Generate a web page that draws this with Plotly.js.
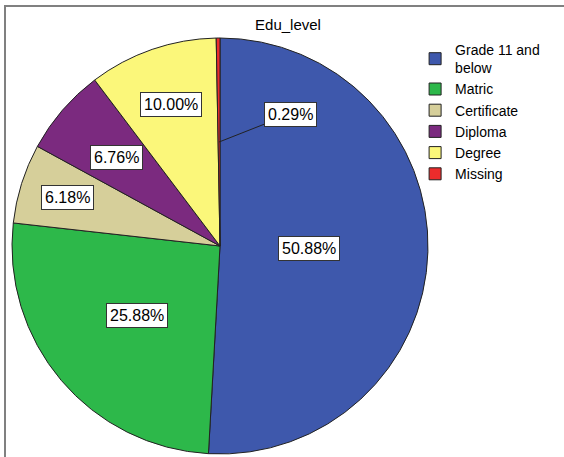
<!DOCTYPE html>
<html>
<head>
<meta charset="utf-8">
<script src="https://cdn.plot.ly/plotly-3.0.1.min.js"></script>
<style>
  html, body { margin: 0; padding: 0; background: #ffffff; }
  #chart { width: 564px; height: 457px; }
</style>
</head>
<body>
<div id="chart"></div>
<script>
// Education level shares (percent of respondents)
const categories = ['Grade 11 and<br>below', 'Matric', 'Certificate', 'Diploma', 'Degree', 'Missing'];
const shares = [50.88, 25.88, 6.18, 6.76, 10.00, 0.29];
const sliceColors = ['#3e58ac', '#2db84a', '#d6cf9a', '#7b2a7f', '#fbf77a', '#ec2c2c'];

// Where each percentage box sits along its slice's mid-angle (fraction of radius)
const labelRadius = [0.43, 0.52, 0.77, 0.655, 0.72, 0.5];

const W = 564, H = 457;
// pie geometry in pixels
const cx = 220, cy = 246, R = 208;

const total = shares.reduce((a, b) => a + b, 0);
const annotations = [];
let cum = 0;
shares.forEach((v, i) => {
  const mid = (cum + v / 2) / total * 2 * Math.PI; // clockwise from 12 o'clock
  cum += v;
  const px = cx + R * labelRadius[i] * Math.sin(mid);
  const py = cy - R * labelRadius[i] * Math.cos(mid);
  const small = v < 1;
  annotations.push({
    xref: 'paper', yref: 'paper',
    x: px / W, y: 1 - py / H,
    text: v.toFixed(2) + '%',
    showarrow: small,
    ax: small ? 71 : 0, ay: small ? -28 : 0,
    arrowhead: 0, arrowwidth: 1, arrowcolor: '#222', standoff: 0,
    xanchor: 'center', yanchor: 'middle',
    bgcolor: '#ffffff', bordercolor: '#333333', borderwidth: 1, borderpad: 3,
    font: { family: 'Liberation Sans, Arial, sans-serif', size: 16, color: '#000' }
  });
});

const trace = {
  type: 'pie',
  labels: categories,
  values: shares,
  sort: false,
  direction: 'clockwise',
  rotation: 0,
  textinfo: 'none',
  hoverinfo: 'skip',
  marker: { colors: sliceColors, line: { color: '#222222', width: 1 } },
  domain: { x: [(cx - R) / W, (cx + R) / W], y: [1 - (cy + R) / H, 1 - (cy - R) / H] }
};

const layout = {
  width: W, height: H,
  margin: { l: 0, r: 0, t: 0, b: 0 },
  paper_bgcolor: '#ffffff',
  font: { family: 'Liberation Sans, Arial, sans-serif', color: '#000' },
  title: {
    text: 'Edu_level',
    x: 288 / W, y: 1 - 25 / H, xref: 'paper', yref: 'paper',
    xanchor: 'center', yanchor: 'middle',
    font: { family: 'Liberation Sans, Arial, sans-serif', size: 15, color: '#000' }
  },
  showlegend: true,
  legend: {
    x: 0.736, y: 1 - 34 / H, xanchor: 'left', yanchor: 'top',
    bgcolor: 'rgba(0,0,0,0)',
    font: { family: 'Liberation Sans, Arial, sans-serif', size: 14, color: '#000' },
    tracegroupgap: 0
  },
  shapes: [{
    type: 'rect', xref: 'paper', yref: 'paper',
    x0: 5 / W, x1: 1.1, y0: -0.1, y1: 1 - 6 / H,
    line: { color: '#808080', width: 2 }, fillcolor: 'rgba(0,0,0,0)', layer: 'below'
  }],
  annotations: annotations
};

Plotly.newPlot('chart', [trace], layout, { displayModeBar: false, staticPlot: true });
</script>
</body>
</html>
